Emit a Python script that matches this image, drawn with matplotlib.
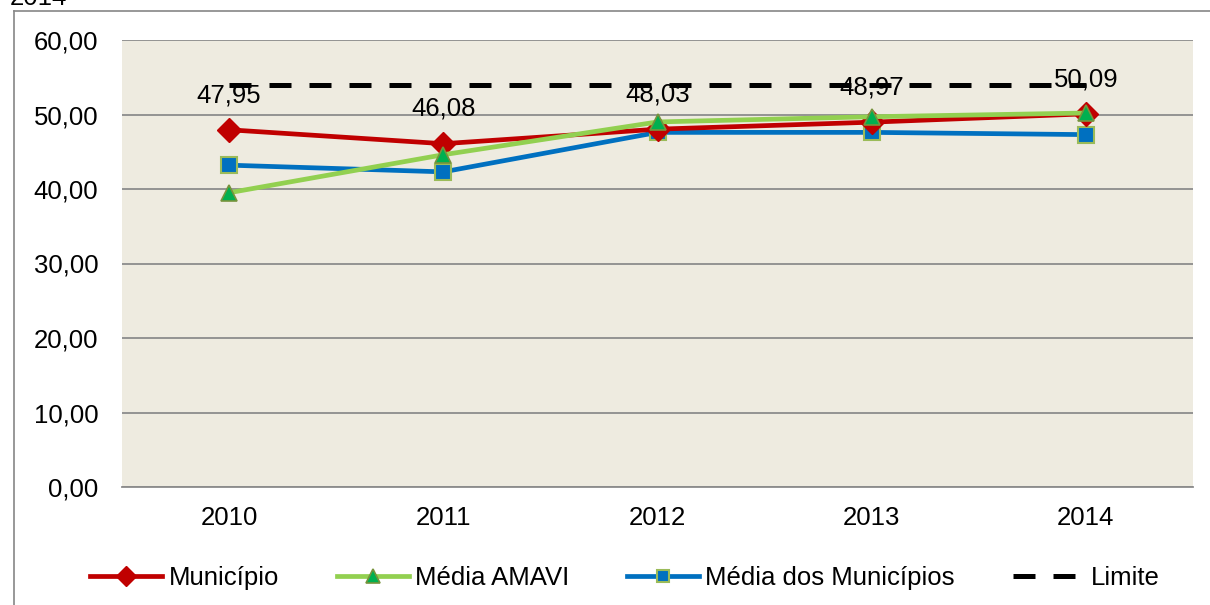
import matplotlib.pyplot as plt
import numpy as np
from matplotlib.lines import Line2D

plt.rcParams['font.family'] = ['Liberation Sans', 'DejaVu Sans']

anos = ['2010', '2011', '2012', '2013', '2014']
municipio = [47.95, 46.08, 48.03, 48.97, 50.09]
media_amavi = [39.5, 44.6, 49.0, 49.7, 50.2]
media_municipios = [43.2, 42.3, 47.6, 47.6, 47.3]
limite = [54.0, 54.0, 54.0, 54.0, 54.0]
rotulos = ['47,95', '46,08', '48,03', '48,97', '50,09']
yticks = [0, 10, 20, 30, 40, 50, 60]

fig = plt.figure(figsize=(12.1, 6.05), dpi=100)
ax = fig.add_axes([122/1210, 1 - 487/605, (1193-122)/1210, (487-40)/605])
ax.set_facecolor('#EEEBE0')

x = np.arange(len(anos))
ax.plot(x, municipio, color='#C00000', lw=3.4, marker='D', ms=12,
        mfc='#C00000', mec='#C00000', label='Município', zorder=4)
ax.plot(x, media_amavi, color='#92D050', lw=3.4, marker='^', ms=12,
        mfc='#00B050', mec='#77933C', mew=1.2, label='Média AMAVI', zorder=5)
ax.plot(x, media_municipios, color='#0070C0', lw=3.4, marker='s', ms=11,
        mfc='#0070C0', mec='#9BBB59', mew=1.5, label='Média dos Municípios', zorder=3)
ax.plot(x, limite, color='black', lw=3.6, dashes=(4.4, 3.6),
        label='Limite', zorder=2)

for xi, yi, t in zip(x, municipio, rotulos):
    ax.annotate(t, xy=(xi, yi), xytext=(0, 25), textcoords='offset points',
                ha='center', va='center', fontsize=18.5, zorder=6)

ax.set_xlim(-0.5, 4.5)
ax.set_ylim(0, 60)
ax.set_yticks(yticks)
ax.set_yticklabels([f'{v:.2f}'.replace('.', ',') for v in yticks], fontsize=18.5)
ax.set_xticks(x)
ax.set_xticklabels(anos, fontsize=18.5)
ax.yaxis.grid(True, color='#8C8C8C', lw=1.3)
ax.set_axisbelow(True)
ax.tick_params(length=0)
ax.tick_params(axis='y', pad=17)
ax.tick_params(axis='x', pad=14)
for s in ['top', 'right', 'left']:
    ax.spines[s].set_visible(False)
ax.spines['bottom'].set_color('#8C8C8C')
ax.spines['bottom'].set_linewidth(1.3)

fig.legend(loc='center', bbox_to_anchor=(625/1210, 1 - 578/605), ncol=4,
           frameon=False, fontsize=18.5, handlelength=2.8, columnspacing=2.25,
           handletextpad=0.25, markerscale=0.85)

# moldura externa e título cortado
fig.add_artist(Line2D([14/1210, 1], [1 - 11/605, 1 - 11/605],
                      color='#868686', lw=1.2))
fig.add_artist(Line2D([14/1210, 14/1210], [0, 1 - 11/605],
                      color='#868686', lw=1.2))
fig.text(10/1210, 1 - 5/605, '2014', fontsize=18.5, va='baseline')

fig.savefig('out.png', dpi=100)
